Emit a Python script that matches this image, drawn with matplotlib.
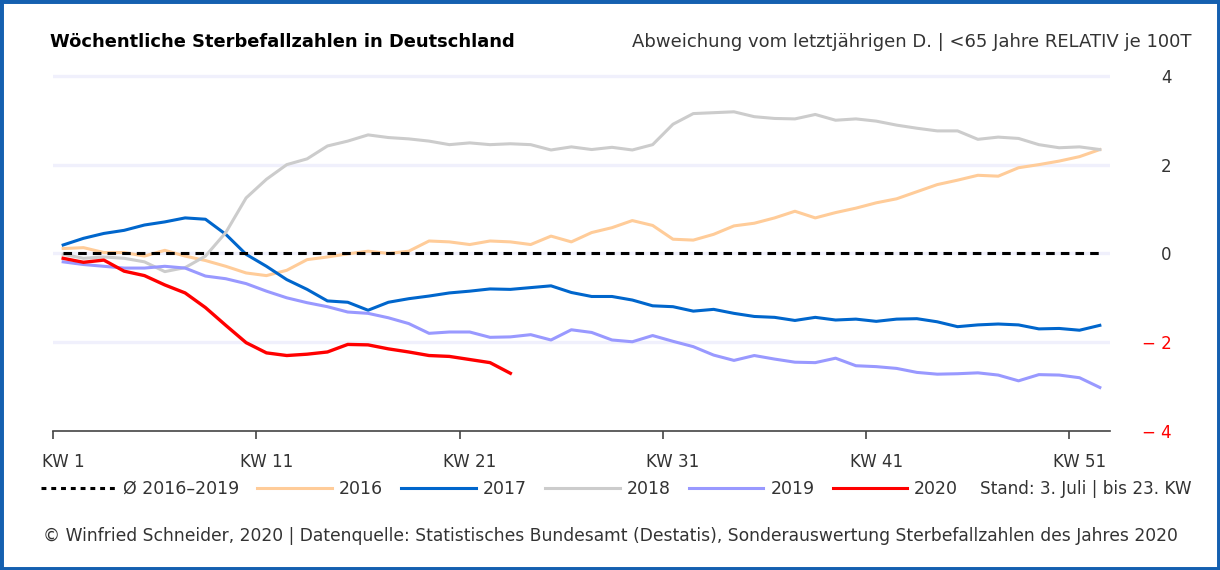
import matplotlib
matplotlib.use('Agg')
import matplotlib.pyplot as plt
from matplotlib.lines import Line2D
from matplotlib.patches import Rectangle

plt.rcParams['font.family'] = ['DejaVu Sans']

# Kalenderwochen 1..52
weeks = list(range(1, 53))

# Abweichung vom Durchschnitt 2016-2019 (je 100T, <65 Jahre)
avg_2016_2019 = [0.0] * 52

y2016 = [0.11, 0.13, 0.02, 0.02, -0.06, 0.07, -0.06, -0.16, -0.29, -0.44,
         -0.50, -0.38, -0.14, -0.08, -0.01, 0.05, 0.00, 0.05, 0.28, 0.26,
         0.20, 0.28, 0.26, 0.20, 0.39, 0.26, 0.47, 0.58, 0.74, 0.63,
         0.32, 0.30, 0.43, 0.62, 0.68, 0.80, 0.95, 0.80, 0.92, 1.02,
         1.14, 1.23, 1.39, 1.55, 1.65, 1.76, 1.74, 1.93, 2.00, 2.08,
         2.18, 2.34]

y2017 = [0.19, 0.34, 0.45, 0.52, 0.64, 0.71, 0.80, 0.77, 0.43, -0.02,
         -0.29, -0.59, -0.81, -1.07, -1.10, -1.28, -1.10, -1.02, -0.96, -0.89,
         -0.85, -0.80, -0.81, -0.77, -0.73, -0.88, -0.97, -0.97, -1.05, -1.18,
         -1.20, -1.30, -1.26, -1.35, -1.42, -1.44, -1.51, -1.44, -1.50, -1.48,
         -1.53, -1.48, -1.47, -1.54, -1.65, -1.61, -1.59, -1.61, -1.70, -1.69,
         -1.73, -1.62]

y2018 = [-0.02, -0.11, -0.08, -0.11, -0.19, -0.41, -0.32, -0.06, 0.47, 1.25,
         1.67, 2.00, 2.13, 2.42, 2.53, 2.67, 2.61, 2.58, 2.53, 2.45,
         2.49, 2.45, 2.47, 2.45, 2.33, 2.40, 2.34, 2.39, 2.33, 2.45,
         2.91, 3.15, 3.17, 3.19, 3.08, 3.04, 3.03, 3.13, 3.00, 3.03,
         2.98, 2.89, 2.82, 2.76, 2.76, 2.57, 2.62, 2.59, 2.45, 2.38,
         2.40, 2.34]

y2019 = [-0.19, -0.25, -0.29, -0.33, -0.33, -0.29, -0.33, -0.51, -0.57, -0.68,
         -0.85, -1.00, -1.11, -1.20, -1.32, -1.35, -1.45, -1.58, -1.80, -1.77,
         -1.77, -1.89, -1.88, -1.83, -1.95, -1.72, -1.78, -1.95, -1.99, -1.85,
         -1.98, -2.10, -2.29, -2.41, -2.30, -2.38, -2.45, -2.46, -2.36, -2.53,
         -2.55, -2.59, -2.68, -2.72, -2.71, -2.69, -2.74, -2.87, -2.73, -2.74,
         -2.80, -3.02]

# 2020 bis KW 23
y2020 = [-0.11, -0.20, -0.15, -0.40, -0.50, -0.71, -0.89, -1.22, -1.62, -2.01,
         -2.24, -2.30, -2.27, -2.22, -2.05, -2.06, -2.15, -2.22, -2.30, -2.32,
         -2.39, -2.46, -2.70]

kw_ticks = [1, 11, 21, 31, 41, 51]
kw_labels = ['KW 1', 'KW 11', 'KW 21', 'KW 31', 'KW 41', 'KW 51']
y_ticks = [-4, -2, 0, 2, 4]
y_labels = ['\u2212 4', '\u2212 2', '0', '2', '4']

text_col = '#333333'

fig = plt.figure(figsize=(12.2, 5.7), dpi=100)
ax = fig.add_axes([53 / 1220, 1 - 431 / 570, (1110 - 53) / 1220, 359.6 / 570])

# Gitterlinien
for yv in y_ticks[1:]:
    ax.axhline(yv, color='#f0f0fc', lw=2.4, zorder=0)

# Jahreslinien
ax.plot(weeks, y2016, color='#ffcc99', lw=2.2, label='2016', zorder=2)
ax.plot(weeks, y2017, color='#0066cc', lw=2.2, label='2017', zorder=2)
ax.plot(weeks, y2018, color='#cccccc', lw=2.2, label='2018', zorder=2)
ax.plot(weeks, y2019, color='#9999ff', lw=2.2, label='2019', zorder=2)
ax.plot(weeks, avg_2016_2019, color='black', lw=2.2, ls=(0, (2.8, 2.0)), zorder=3)
ax.plot(weeks[:len(y2020)], y2020, color='#ff0000', lw=2.4, label='2020', zorder=4)

ax.set_xlim(0.5, 52.5)
ax.set_ylim(-4, 4.1)

for s in ['top', 'left', 'right']:
    ax.spines[s].set_visible(False)
ax.spines['bottom'].set_color('#444444')
ax.spines['bottom'].set_linewidth(1.2)

# Striche an den Wochengrenzen, Beschriftung in Wochenmitte
ax.set_xticks([k - 0.5 for k in kw_ticks], minor=True)
ax.set_xticks(kw_ticks)
ax.set_xticklabels(kw_labels)
ax.tick_params(axis='x', which='minor', length=6, width=1.2, color='#444444', direction='out')
ax.tick_params(axis='x', which='major', length=0, pad=16, labelsize=12, labelcolor=text_col)

ax.yaxis.tick_right()
ax.set_yticks(y_ticks)
ax.set_yticklabels(y_labels)
ax.tick_params(axis='y', length=0, pad=44.5, labelsize=12)
for lab, v in zip(ax.get_yticklabels(), y_ticks):
    lab.set_horizontalalignment('right')
    lab.set_color('#ff0000' if v < 0 else text_col)

# Titel
fig.text(50 / 1220, 1 - 42 / 570, 'Wöchentliche Sterbefallzahlen in Deutschland',
         fontsize=12.9, fontweight='bold', color='black', ha='left', va='center')
fig.text(1192 / 1220, 1 - 42 / 570,
         'Abweichung vom letztjährigen D. | <65 Jahre RELATIV je 100T',
         fontsize=13.0, color=text_col, ha='right', va='center')

# Legende
handles = [Line2D([], [], color='black', lw=2.2, ls=(0, (1.6, 1.6)))]
labels = ['Ø 2016–2019']
for line in ax.get_lines():
    if line.get_label() in ('2016', '2017', '2018', '2019', '2020'):
        handles.append(Line2D([], [], color=line.get_color(), lw=2.2))
        labels.append(line.get_label())
fig.legend(handles, labels, loc='center left', bbox_to_anchor=(41 / 1220, 1 - 489 / 570),
           ncol=6, frameon=False, fontsize=12.5, handlelength=4.3, handletextpad=0.4,
           columnspacing=1.05, borderpad=0, borderaxespad=0, labelcolor=text_col)
fig.text(1192 / 1220, 1 - 489 / 570, 'Stand: 3. Juli | bis 23. KW',
         fontsize=12.2, color=text_col, ha='right', va='center')

# Fußzeile
fig.text(0.5, 1 - 536 / 570,
         '© Winfried Schneider, 2020 | Datenquelle: Statistisches Bundesamt (Destatis), '
         'Sonderauswertung Sterbefallzahlen des Jahres 2020',
         fontsize=12.3, color=text_col, ha='center', va='center')

# Rahmen
fig.patches.append(Rectangle((0, 0), 1, 1, transform=fig.transFigure, fill=False,
                             edgecolor='#1560b0', lw=5, zorder=10))

fig.savefig('out.png', dpi=100, facecolor='white')
